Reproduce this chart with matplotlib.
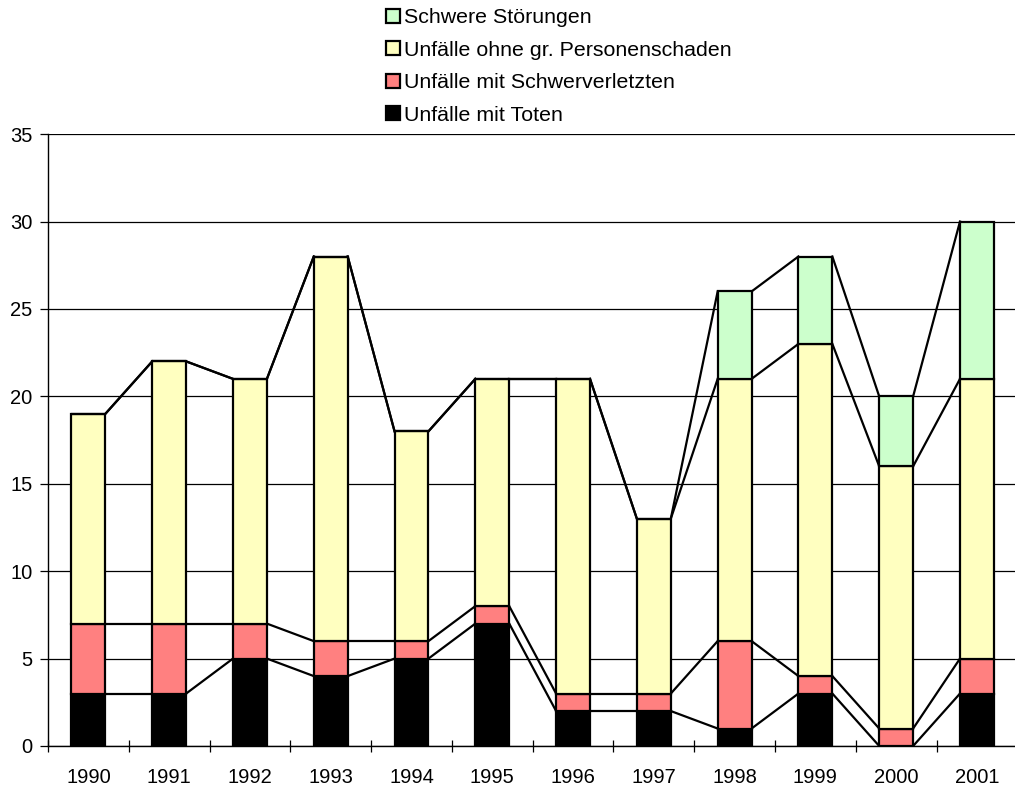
import matplotlib.pyplot as plt
import numpy as np

plt.rcParams['font.family'] = ['Liberation Sans', 'DejaVu Sans']

# Daten
jahre = ['1990', '1991', '1992', '1993', '1994', '1995', '1996', '1997', '1998', '1999', '2000', '2001']
tote = [3, 3, 5, 4, 5, 7, 2, 2, 1, 3, 0, 3]
schwerverletzte = [4, 4, 2, 2, 1, 1, 1, 1, 5, 1, 1, 2]
ohne_personenschaden = [12, 15, 14, 22, 12, 13, 18, 10, 15, 19, 15, 16]
schwere_stoerungen = [0, 0, 0, 0, 0, 0, 0, 0, 5, 5, 4, 9]

serien = [
    ('Unfälle mit Toten', tote, '#000000'),
    ('Unfälle mit Schwerverletzten', schwerverletzte, '#FF8080'),
    ('Unfälle ohne gr. Personenschaden', ohne_personenschaden, '#FFFFC0'),
    ('Schwere Störungen', schwere_stoerungen, '#CCFFCC'),
]

fig = plt.figure(figsize=(10.15, 7.89), dpi=100)
ax = fig.add_axes([0.0473, 0.0545, 0.955, 0.7755])

x = np.arange(len(jahre))
bar_width = 0.42
bottom = np.zeros(len(jahre))
handles = []
for name, werte, farbe in serien:
    werte = np.array(werte, dtype=float)
    b = ax.bar(x, werte, bottom=bottom, width=bar_width, color=farbe,
               edgecolor='black', linewidth=1.6, label=name, zorder=3)
    handles.append(b)
    bottom = bottom + werte
    # Verbindungslinien zwischen den Balken
    for i in range(len(jahre) - 1):
        ax.plot([x[i] + bar_width / 2, x[i + 1] - bar_width / 2],
                [bottom[i], bottom[i + 1]], color='black', linewidth=1.6, zorder=2)

ax.set_xlim(-0.5, len(jahre) - 0.5)
ax.set_ylim(0, 35)
ax.set_yticks(range(0, 36, 5))
ax.yaxis.grid(True, color='black', linewidth=0.9)
ax.set_axisbelow(True)

ax.set_xticks(x)
ax.set_xticklabels(jahre)
ax.set_xticks(np.arange(-0.5, len(jahre), 1), minor=True)
ax.tick_params(axis='x', which='major', length=0, pad=16, labelsize=14.5)
ax.tick_params(axis='x', which='minor', length=9, direction='inout', width=0.9)
ax.tick_params(axis='y', length=6, width=0.9, labelsize=14.5, pad=5)

for s in ['top', 'right']:
    ax.spines[s].set_visible(False)
ax.spines['left'].set_linewidth(1.0)
ax.spines['bottom'].set_linewidth(1.0)

leg = fig.legend(handles[::-1], [s[0] for s in serien][::-1], loc='upper left',
                 bbox_to_anchor=(0.361, 1.014), frameon=False, fontsize=15.4,
                 handlelength=0.65, handleheight=0.65, handletextpad=0.2,
                 labelspacing=0.63)

plt.savefig('out.png', dpi=100)
